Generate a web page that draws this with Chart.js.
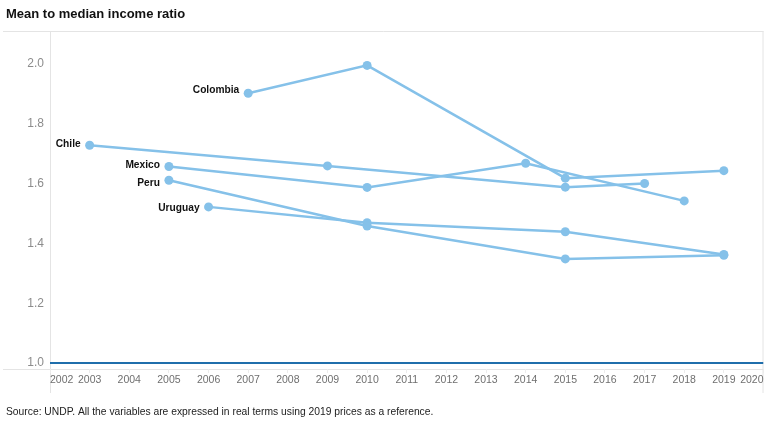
<!DOCTYPE html>
<html>
<head>
<meta charset="utf-8">
<title>Mean to median income ratio</title>
<script src="https://cdn.jsdelivr.net/npm/chart.js@4/dist/chart.umd.min.js"></script>
<style>
  html, body { margin: 0; padding: 0; background: #fff; }
  #wrap { position: relative; width: 768px; height: 426px; }
</style>
</head>
<body>
<div id="wrap"><canvas id="chart"></canvas></div>
<script>
// Mean to median income ratio — five countries, UNDP survey years.
var xTicks = [2002, 2003, 2004, 2005, 2006, 2007, 2008, 2009, 2010, 2011,
              2012, 2013, 2014, 2015, 2016, 2017, 2018, 2019, 2020];
var yTicks = [1.0, 1.2, 1.4, 1.6, 1.8, 2.0];

var chileYears = [2003, 2009, 2015, 2017];
var chileValues = [1.728, 1.659, 1.588, 1.600];

var colombiaYears = [2007, 2010, 2015, 2019];
var colombiaValues = [1.902, 1.995, 1.618, 1.643];

var mexicoYears = [2005, 2010, 2014, 2018];
var mexicoValues = [1.657, 1.587, 1.668, 1.542];

var peruYears = [2005, 2010, 2015, 2019];
var peruValues = [1.611, 1.458, 1.348, 1.360];

var uruguayYears = [2006, 2010, 2015, 2019];
var uruguayValues = [1.522, 1.469, 1.439, 1.363];

var refYears = [2002, 2020];
var refValues = [1.0, 1.0];

var TITLE = 'Mean to median income ratio';
var SOURCE = 'Source: UNDP. All the variables are expressed in real terms using 2019 prices as a reference.';

var FONT = '"Liberation Sans", Arial, sans-serif';
var LINE = '#85c1e9';
var FRAME = '#e4e4e4';

function pts(xs, ys) {
  return xs.map(function (x, i) { return { x: x, y: ys[i] }; });
}

function country(name, xs, ys, dy) {
  return {
    label: name,
    data: pts(xs, ys),
    borderColor: LINE,
    backgroundColor: LINE,
    borderWidth: 2.5,
    pointRadius: 4.5,
    pointHoverRadius: 4.5,
    pointBorderWidth: 0,
    tension: 0,
    showName: true,
    labelDy: dy || 0
  };
}

// frame, title, source note and the country names next to each first point
var decor = {
  id: 'decor',
  beforeDraw: function (chart) {
    var c = chart.ctx, a = chart.chartArea;
    c.save();
    c.strokeStyle = FRAME;
    c.lineWidth = 1;
    c.beginPath();
    c.moveTo(3, a.top + 0.5); c.lineTo(a.right, a.top + 0.5);
    c.moveTo(3, a.bottom + 0.5); c.lineTo(a.right, a.bottom + 0.5);
    c.moveTo(a.left + 0.5, a.top); c.lineTo(a.left + 0.5, 393);
    c.moveTo(a.right - 0.5, a.top); c.lineTo(a.right - 0.5, 393);
    c.stroke();

    c.fillStyle = '#111';
    c.textBaseline = 'middle';
    c.textAlign = 'left';
    c.font = 'bold 13px ' + FONT;
    c.fillText(TITLE, 6, 14);
    c.font = '10.3px ' + FONT;
    c.fillStyle = '#222';
    c.fillText(SOURCE, 6, 412);
    c.restore();
  },
  afterDatasetsDraw: function (chart) {
    var c = chart.ctx;
    c.save();
    c.font = 'bold 10.2px ' + FONT;
    c.fillStyle = '#111';
    c.textAlign = 'right';
    c.textBaseline = 'middle';
    chart.data.datasets.forEach(function (ds, i) {
      if (!ds.showName) return;
      var p = chart.getDatasetMeta(i).data[0];
      c.fillText(ds.label, p.x - 9, p.y + ds.labelDy);
    });
    c.restore();
  }
};

var datasets = [
  country('Colombia', colombiaYears, colombiaValues, -3),
  country('Chile', chileYears, chileValues, -1),
  country('Mexico', mexicoYears, mexicoValues, -1),
  country('Peru', peruYears, peruValues, 3),
  country('Uruguay', uruguayYears, uruguayValues, 1),
  {
    label: 'ref',
    data: pts(refYears, refValues),
    borderColor: '#1f6eab',
    borderWidth: 2,
    pointRadius: 0,
    tension: 0,
    showName: false
  }
];

new Chart(document.getElementById('chart'), {
  type: 'line',
  data: { datasets: datasets },
  options: {
    responsive: true,
    maintainAspectRatio: false,
    animation: false,
    events: [],
    layout: { padding: { top: 31, right: 4, bottom: 33, left: 0 } },
    plugins: {
      legend: { display: false },
      tooltip: { enabled: false },
      title: { display: false }
    },
    scales: {
      x: {
        type: 'linear',
        min: 2002,
        max: 2020,
        afterFit: function (s) { s.height = 24; },
        afterBuildTicks: function (s) {
          s.ticks = xTicks.map(function (v) { return { value: v }; });
        },
        border: { display: false },
        grid: { display: true, drawOnChartArea: false, drawTicks: true, tickLength: 4, color: '#ececec' },
        ticks: {
          autoSkip: false,
          maxRotation: 0,
          align: 'inner',
          padding: 1,
          color: '#6f6f6f',
          font: { family: FONT, size: 10.5 },
          callback: function (v) { return String(v); }
        }
      },
      y: {
        min: 0.98,
        max: 2.11,
        afterFit: function (s) { s.width = 50; },
        afterBuildTicks: function (s) {
          s.ticks = yTicks.map(function (v) { return { value: v }; });
        },
        border: { display: false },
        grid: { display: false, drawTicks: false },
        ticks: {
          padding: 6,
          color: '#8c8c8c',
          font: { family: FONT, size: 12 },
          callback: function (v) { return Number(v).toFixed(1); }
        }
      }
    }
  },
  plugins: [decor]
});
</script>
</body>
</html>
